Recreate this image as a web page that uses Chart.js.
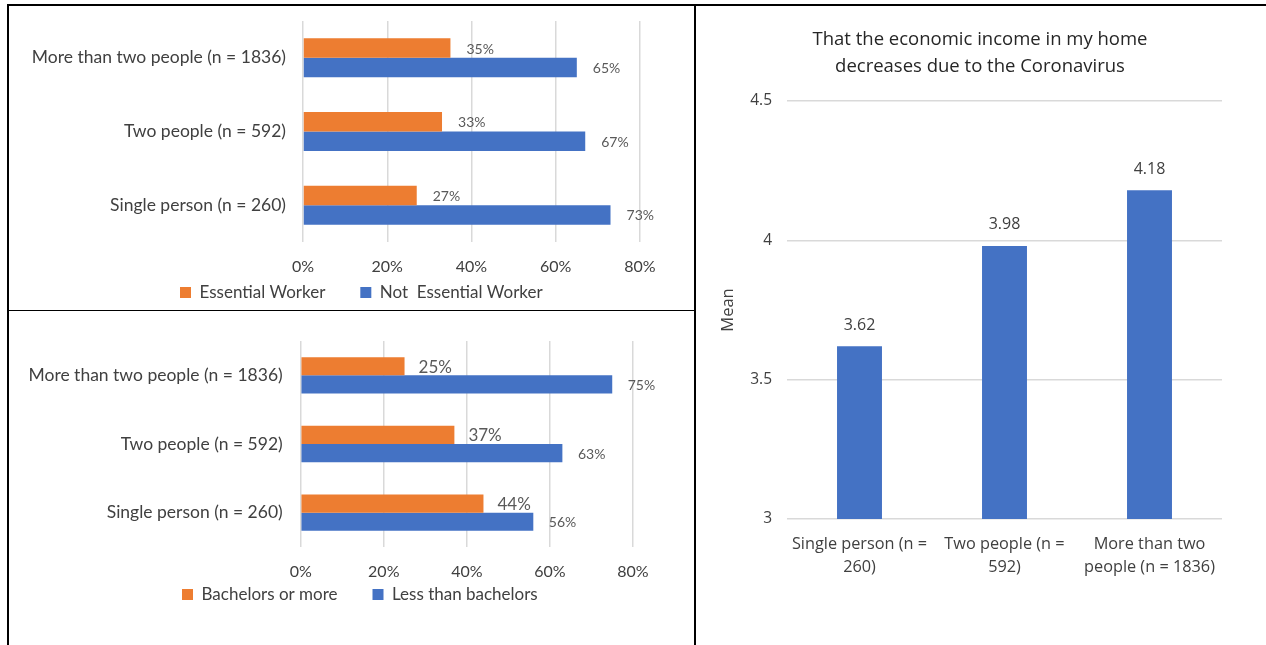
<!DOCTYPE html>
<html>
<head>
<meta charset="utf-8">
<script src="https://cdn.jsdelivr.net/npm/chart.js@4.4.1/dist/chart.umd.min.js"></script>
<style>
  body { margin: 0; background: #fff; }
  #page { position: relative; width: 1266px; height: 645px; overflow: hidden; }
  canvas { position: absolute; }
  .rule { position: absolute; background: #000; }
</style>
</head>
<body>
<div id="page">
  <div class="rule" style="left:7px;top:4px;width:1259px;height:2px"></div>
  <div class="rule" style="left:7px;top:4px;width:2px;height:641px"></div>
  <div class="rule" style="left:694px;top:4px;width:2px;height:641px"></div>
  <div class="rule" style="left:7px;top:310px;width:689px;height:1px"></div>
  <canvas id="workerChart" width="685" height="304" style="left:9px;top:6px"></canvas>
  <canvas id="degreeChart" width="685" height="333" style="left:9px;top:312px"></canvas>
  <canvas id="incomeChart" width="570" height="639" style="left:696px;top:6px"></canvas>
</div>
<script>
// data
var householdLabels = ["More than two people (n = 1836)", "Two people (n = 592)", "Single person (n = 260)"];
var essentialPct = [35, 33, 27];
var notEssentialPct = [65, 67, 73];
var bachelorsPct = [25, 37, 44];
var lessBachelorsPct = [75, 63, 56];
var pctTickStep = 20;
var pctMax = 80;

var incomeTitle = ["That the economic income in my home", "decreases due to the Coronavirus"];
var incomeLabels = [["Single person (n =", "260)"], ["Two people (n =", "592)"], ["More than two", "people (n = 1836)"]];
var incomeMeans = [3.62, 3.98, 4.18];
var meanMin = 3, meanMax = 4.5, meanStep = 0.5;

var ORANGE = "#ED7D31", BLUE = "#4472C4", GRID = "#D9D9D9";
var LEFT_FONT = "Lato", RIGHT_FONT = "'Open Sans'";

// value labels next to / above each bar
var barLabels = {
  id: "barLabels",
  afterDatasetsDraw: function(chart) {
    var ctx = chart.ctx;
    chart.data.datasets.forEach(function(ds, i) {
      var meta = chart.getDatasetMeta(i);
      ctx.save();
      ctx.font = ds.labelSize + "px " + ds.labelFamily;
      ctx.fillStyle = ds.labelColor;
      ctx.textBaseline = "middle";
      meta.data.forEach(function(bar, j) {
        var txt = ds.data[j] + (ds.labelSuffix || "");
        if (chart.options.indexAxis === "y") {
          ctx.textAlign = "left";
          ctx.fillText(txt, bar.x + ds.labelOffset, bar.y + (ds.labelDy || 0));
        } else {
          ctx.textAlign = "center";
          ctx.fillText(txt, bar.x, bar.y - ds.labelOffset);
        }
      });
      ctx.restore();
    });
  }
};

// move the legend to where excel put it (first box x, text centre y)
var legendSpot = {
  id: "legendSpot",
  afterLayout: function(chart, args, opts) {
    var lg = chart.legend;
    if (!lg || !lg.lineWidths) return;
    var pad = lg.options.labels.padding;
    var fs = lg.options.labels.font.size;
    var start = (lg.left + pad + lg.right - lg.lineWidths[0]) / 2;
    var dx = opts.startX - start;
    lg.left += dx;
    lg.right += dx;
    lg.top = opts.centerY - pad - fs / 2;
    lg.bottom = chart.height;
    lg.height = lg.bottom - lg.top;
  }
};

function fixWidth(w) {
  return function(s) { s.width = w; s.paddingTop = 0; s.paddingBottom = 0; };
}
function fixHeight(h) {
  return function(s) { s.height = h; s.paddingLeft = 0; s.paddingRight = 0; };
}

function pctChart(id, names, first, second, lay) {
  return new Chart(document.getElementById(id), {
    type: "bar",
    data: {
      labels: householdLabels,
      datasets: [{
        label: names[0],
        data: first,
        backgroundColor: ORANGE,
        categoryPercentage: 0.53,
        barPercentage: 1,
        labelSize: lay.firstLabelSize, labelFamily: LEFT_FONT, labelColor: "#595959",
        labelOffset: lay.firstLabelOffset, labelSuffix: "%", labelDy: 1
      }, {
        label: names[1],
        data: second,
        backgroundColor: BLUE,
        categoryPercentage: 0.53,
        barPercentage: 1,
        labelSize: 14, labelFamily: LEFT_FONT, labelColor: "#595959",
        labelOffset: lay.secondLabelOffset, labelSuffix: "%", labelDy: 1
      }]
    },
    options: {
      indexAxis: "y",
      responsive: false,
      animation: false,
      layout: { padding: lay.padding },
      scales: {
        x: {
          min: 0, max: pctMax,
          ticks: { stepSize: pctTickStep, padding: 15.5, color: "#404040",
                   font: { family: LEFT_FONT, size: 16 },
                   callback: function(v) { return v + "%"; } },
          grid: { color: GRID, lineWidth: 1.5, drawTicks: false },
          border: { display: false },
          afterFit: fixHeight(36)
        },
        y: {
          ticks: { padding: lay.catPad, color: "#404040", font: { family: LEFT_FONT, size: 17.5 } },
          grid: { display: false, drawTicks: false },
          border: { display: false },
          afterFit: fixWidth(lay.yWidth)
        }
      },
      plugins: {
        legend: {
          position: "bottom",
          maxHeight: 32,
          labels: { boxWidth: 11, boxHeight: 11, padding: 35, color: "#404040",
                    font: { family: LEFT_FONT, size: 17 } }
        },
        legendSpot: lay.legend,
        tooltip: { enabled: false }
      }
    },
    plugins: [barLabels, legendSpot]
  });
}

pctChart("workerChart", ["Essential Worker", "Not  Essential Worker"], essentialPct, notEssentialPct, {
  padding: { left: 0, right: 54, top: 15, bottom: 0 },
  yWidth: 294, catPad: 17,
  legend: { startX: 171, centerY: 286.5 },
  firstLabelSize: 14, firstLabelOffset: 16, secondLabelOffset: 16
});

pctChart("degreeChart", ["Bachelors or more", "Less than bachelors"], bachelorsPct, lessBachelorsPct, {
  padding: { left: 0, right: 61, top: 29, bottom: 30 },
  yWidth: 291.7, catPad: 18,
  legend: { startX: 173, centerY: 282.5 },
  firstLabelSize: 17, firstLabelOffset: 14, secondLabelOffset: 15.5
});

new Chart(document.getElementById("incomeChart"), {
  type: "bar",
  data: {
    labels: incomeLabels,
    datasets: [{
      label: "Mean",
      data: incomeMeans,
      backgroundColor: BLUE,
      categoryPercentage: 0.31,
      barPercentage: 1,
      labelSize: 16, labelFamily: RIGHT_FONT, labelColor: "#404040", labelOffset: 21
    }]
  },
  options: {
    responsive: false,
    animation: false,
    layout: { padding: { left: 42, right: 44, top: 0, bottom: 0 } },
    scales: {
      x: {
        ticks: { padding: 13.5, color: "#404040", maxRotation: 0, autoSkip: false,
                 font: { family: RIGHT_FONT, size: 16.3, lineHeight: 23 / 16.3 } },
        grid: { display: false, drawTicks: false },
        border: { display: false },
        afterFit: fixHeight(126)
      },
      y: {
        min: meanMin, max: meanMax,
        ticks: { stepSize: meanStep, padding: 15, color: "#404040",
                 font: { family: RIGHT_FONT, size: 15.5 },
                 callback: function(v) { return String(v); } },
        grid: { color: GRID, lineWidth: 1.5, drawTicks: false },
        border: { display: false },
        title: { display: true, text: "Mean", color: "#404040",
                 font: { family: RIGHT_FONT, size: 16.5 }, padding: { top: -20, bottom: 0 } },
        afterFit: fixWidth(49)
      }
    },
    plugins: {
      legend: { display: false },
      title: {
        display: true,
        text: incomeTitle,
        color: "#262626",
        font: { family: RIGHT_FONT, size: 18.5, weight: "normal", lineHeight: 27 / 18.5 },
        padding: { top: 20.5, bottom: 20.5 }
      },
      tooltip: { enabled: false }
    }
  },
  plugins: [barLabels]
});
</script>
</body>
</html>
